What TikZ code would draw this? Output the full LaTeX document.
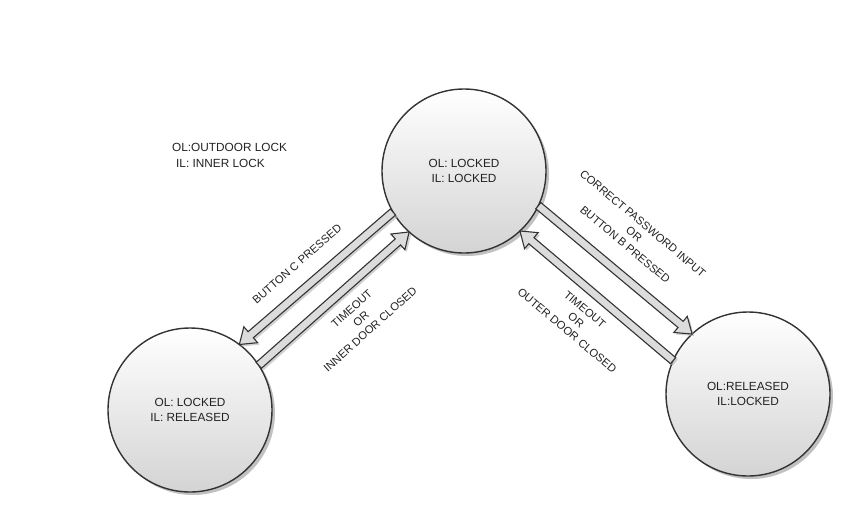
\documentclass[tikz,border=0pt]{standalone}
\usepackage{fontspec}
\setmainfont{Liberation Sans}
\usetikzlibrary{calc,shadows}
\definecolor{edge}{HTML}{333333}
\definecolor{txt}{HTML}{222222}
\definecolor{afill}{HTML}{DCDCDC}
\tikzset{
  state/.style={circle, minimum size=164pt, inner sep=0pt, outer sep=0pt,
    draw=edge, line width=1.4pt, top color=white, bottom color=black!17,
    drop shadow={shadow xshift=3pt, shadow yshift=-3pt, fill=black!35, opacity=.7},
    text=txt, align=center, font=\fontsize{11.8}{15.5}\selectfont},
  barrow/.style={draw=edge, line width=1.1pt, fill=afill, line join=miter,
    drop shadow={shadow xshift=2pt, shadow yshift=-2pt, fill=black!30, opacity=.6}},
  lab/.style={text=txt, align=center, font=\fontsize{11.2}{13.8}\selectfont, inner sep=0pt}
}
\newcommand\blockarrow[2]{%
  \path ($(#2)!15pt!(#1)$) coordinate (hb);
  \draw[barrow] ($(#1)!4pt!90:(#2)$) -- ($(hb)!4pt!90:(#2)$) -- ($(hb)!10.5pt!90:(#2)$)
    -- (#2) -- ($(hb)!10.5pt!-90:(#2)$) -- ($(hb)!4pt!-90:(#2)$) -- ($(#1)!4pt!-90:(#2)$) -- cycle;}
\begin{document}
\begin{tikzpicture}[x=1pt,y=-1pt]
\useasboundingbox (0,0) rectangle (850,512);
\node[state] (top) at (464,171) {OL: LOCKED\\IL: LOCKED};
\node[state] (left) at (190,410) {OL: LOCKED\\IL: RELEASED};
\node[state] (right) at (748,394) {OL:RELEASED\\IL:LOCKED};

\blockarrow{top.210}{left.53}
\blockarrow{left.33}{top.228}
\blockarrow{top.335}{right.133}
\blockarrow{right.156}{top.313}

\node[lab, align=left, anchor=west, font=\fontsize{11.8}{16}\selectfont] (legend) at (172,155)
  {OL:OUTDOOR LOCK\\\hspace{4pt}IL: INNER LOCK};
\node[lab, rotate=41] (lc) at (297,264) {BUTTON C PRESSED};
\node[lab, rotate=42] (lt) at (361,319) {TIMEOUT\\OR\\INNER DOOR CLOSED};
\node[lab, rotate=-40] (rc) at (634,234) {CORRECT PASSWORD INPUT\\OR\\BUTTON B PRESSED};
\node[lab, rotate=-40] (rt) at (576,320) {TIMEOUT\\OR\\OUTER DOOR CLOSED};
\end{tikzpicture}
\end{document}
